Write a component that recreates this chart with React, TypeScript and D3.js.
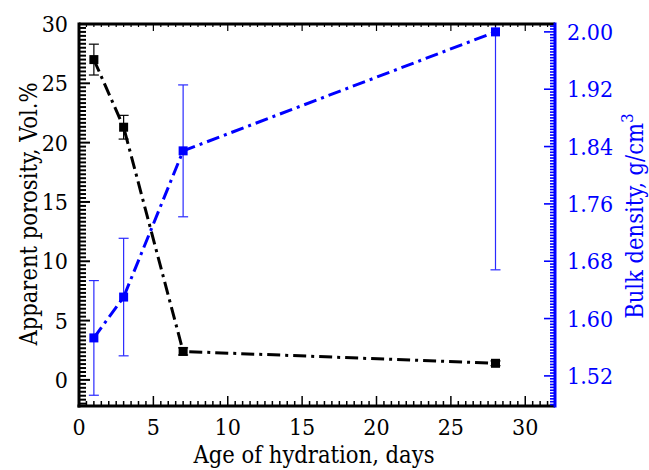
import React from "react";
import * as d3 from "d3";

const days = [1, 3, 7, 28];
const porosity = [27.0, 21.3, 2.4, 1.4];
const porosityErr = [1.3, 1.0, 0.3, 0.2];
const density = [1.573, 1.630, 1.834, 2.0];
const densityErr = [0.08, 0.082, 0.092, 0.332];

const xTicks = [0, 5, 10, 15, 20, 25, 30];
const yLeftTicks = [0, 5, 10, 15, 20, 25, 30];
const yRightTicks = [1.52, 1.6, 1.68, 1.76, 1.84, 1.92, 2.0];

const W = 649, H = 470;
const L = 79, R = 555, T = 24, B = 406;
const BLUE = "#0000ff";
const FONT = "'DejaVu Serif Condensed', 'DejaVu Serif', serif";

export default function App() {
  const x = d3.scaleLinear().domain([0, 32]).range([L, R]);
  const yL = d3.scaleLinear().domain([-2.2, 30]).range([B, T]);
  const yR = d3.scaleLinear().domain([1.478, 2.011]).range([B, T]);

  const xMinor = d3.range(0, 32.01, 0.5);
  const yLMinor = d3.range(-2, 30.01, 1 / 3).filter((v) => v >= -2.2);
  const yRMinor = d3.range(1.48, 2.0111, 0.004);

  const lineL = d3.line<number>().x((_, i) => x(days[i])).y((d) => yL(d));
  const lineR = d3.line<number>().x((_, i) => x(days[i])).y((d) => yR(d));

  const dash = "13,5,3,5";
  const ms = 9;
  const cap = 5;
  const tickFs = 23;
  const titleFs = 23.5;

  return (
    <svg width={W} height={H} style={{ position: "absolute", left: 0, top: 0, fontStretch: "condensed" }} fontFamily={FONT}>
      <defs>
        <clipPath id="plot">
          <rect x={L} y={T} width={R - L} height={B - T} />
        </clipPath>
      </defs>
      <rect x={0} y={0} width={W} height={H} fill="#fff" />

      <g clipPath="url(#plot)">
        {days.map((d, i) => (
          <g key={"eb" + i} stroke="#000" strokeWidth={1.2}>
            <line x1={x(d)} x2={x(d)} y1={yL(porosity[i] - porosityErr[i])} y2={yL(porosity[i] + porosityErr[i])} />
            <line x1={x(d) - cap} x2={x(d) + cap} y1={yL(porosity[i] - porosityErr[i])} y2={yL(porosity[i] - porosityErr[i])} />
            <line x1={x(d) - cap} x2={x(d) + cap} y1={yL(porosity[i] + porosityErr[i])} y2={yL(porosity[i] + porosityErr[i])} />
          </g>
        ))}
        {days.map((d, i) => (
          <g key={"ebr" + i} stroke="#2a2aff" strokeWidth={1.2}>
            <line x1={x(d)} x2={x(d)} y1={yR(density[i] - densityErr[i])} y2={yR(density[i] + densityErr[i])} />
            <line x1={x(d) - cap} x2={x(d) + cap} y1={yR(density[i] - densityErr[i])} y2={yR(density[i] - densityErr[i])} />
            <line x1={x(d) - cap} x2={x(d) + cap} y1={yR(density[i] + densityErr[i])} y2={yR(density[i] + densityErr[i])} />
          </g>
        ))}
      </g>

      <path d={lineL(porosity) || ""} fill="none" stroke="#000" strokeWidth={3} strokeDasharray={dash} />
      <path d={lineR(density) || ""} fill="none" stroke={BLUE} strokeWidth={3} strokeDasharray={dash} />

      {days.map((d, i) => (
        <rect key={"mk" + i} x={x(d) - ms / 2} y={yL(porosity[i]) - ms / 2} width={ms} height={ms} fill="#000" />
      ))}
      {days.map((d, i) => (
        <rect key={"mr" + i} x={x(d) - ms / 2} y={yR(density[i]) - ms / 2} width={ms} height={ms} fill={BLUE} />
      ))}

      <line x1={L} x2={R} y1={T} y2={T} stroke="#000" strokeWidth={3} />
      {xMinor.map((v, i) => (
        <line key={"tx" + i} x1={x(v)} x2={x(v)} y1={T} y2={T + (v % 5 === 0 ? 7 : 3)} stroke="#000" strokeWidth={1.2} />
      ))}

      {xMinor.map((v, i) => (
        <line key={"bx" + i} x1={x(v)} x2={x(v)} y1={B} y2={B - (v % 5 === 0 ? 10 : 5)} stroke="#000" strokeWidth={1.5} />
      ))}
      <line x1={L - 1.5} x2={R} y1={B} y2={B} stroke="#000" strokeWidth={3} />
      {xTicks.map((v) => (
        <text key={"xl" + v} x={x(v)} y={435} textAnchor="middle" fontSize={tickFs} fill="#000">{v}</text>
      ))}
      <text x={(L + R) / 2 - 3} y={463} textAnchor="middle" fontSize={titleFs} fill="#000">Age of hydration, days</text>

      {yLMinor.map((v, i) => {
        const major = Math.abs(v - Math.round(v / 5) * 5) < 1e-6;
        return <line key={"ly" + i} x1={L} x2={L + (major ? 11 : 7)} y1={yL(v)} y2={yL(v)} stroke="#000" strokeWidth={2} />;
      })}
      <line x1={L} x2={L} y1={T - 1.5} y2={B + 1.5} stroke="#000" strokeWidth={3} />
      {yLeftTicks.map((v) => (
        <text key={"yl" + v} x={68} y={yL(v) + 8} textAnchor="end" fontSize={tickFs} fill="#000">{v}</text>
      ))}
      <text transform={`translate(37,${214}) rotate(-90)`} textAnchor="middle" fontSize={titleFs} fill="#000">Apparent porosity, Vol.%</text>

      {yRMinor.map((v, i) => {
        const major = yRightTicks.some((t) => Math.abs(t - v) < 1e-6);
        return <line key={"ry" + i} x1={R} x2={R - (major ? 11 : 5)} y1={yR(v)} y2={yR(v)} stroke={BLUE} strokeWidth={1.6} />;
      })}
      <line x1={R} x2={R} y1={T - 1.5} y2={B + 1.5} stroke={BLUE} strokeWidth={3} />
      {yRightTicks.map((v) => (
        <text key={"yr" + v} x={567} y={yR(v) + 8} textAnchor="start" fontSize={tickFs} fill={BLUE}>{v.toFixed(2)}</text>
      ))}
      <text transform={`translate(643,${216}) rotate(-90)`} textAnchor="middle" fontSize={titleFs} fill={BLUE}>
        Bulk density, g/cm<tspan dy={-10} fontSize={17}>3</tspan>
      </text>
    </svg>
  );
}
